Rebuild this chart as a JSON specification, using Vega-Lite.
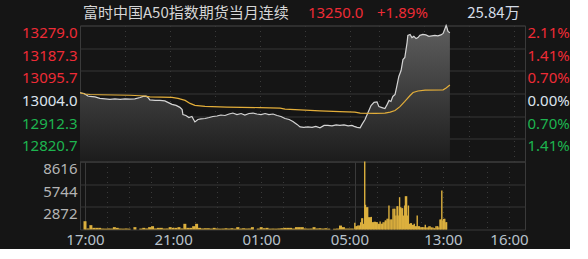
{
  "$schema": "https://vega.github.io/schema/vega-lite/v6.json",
  "background": "#151515",
  "padding": {"left": 20, "top": 4.5, "right": 0, "bottom": 0},
  "spacing": 0,
  "bounds": "flush",
  "config": {
    "font": "Noto Sans",
    "view": {"stroke": "#3a3a3a", "strokeWidth": 1},
    "axis": {"labelFontSize": 15, "labelFont": "Noto Sans", "ticks": false, "domain": false, "title": null, "labelFlush": false, "labelOverlap": false, "labelBound": false, "gridColor": "#363636", "gridWidth": 1}
  },
  "datasets": {
    "price": [
      {"t":0,"p":13007},{"t":11,"p":13004},{"t":21,"p":12994},{"t":27,"p":12992},{"t":40,"p":12990},{"t":53,"p":12984},{"t":67,"p":12982},{"t":80,"p":12980},{"t":93,"p":12982},{"t":107,"p":12980},{"t":120,"p":12982},{"t":133,"p":12981},{"t":146,"p":12982},{"t":160,"p":12988},{"t":168,"p":12992},{"t":176,"p":12993},{"t":181,"p":12988},{"t":186,"p":12978},{"t":200,"p":12976},{"t":213,"p":12976},{"t":226,"p":12974},{"t":234,"p":12968},{"t":245,"p":12960},{"t":256,"p":12956},{"t":266,"p":12948},{"t":272,"p":12939},{"t":274,"p":12919},{"t":282,"p":12915},{"t":290,"p":12907},{"t":298,"p":12911},{"t":306,"p":12889},{"t":314,"p":12899},{"t":322,"p":12901},{"t":333,"p":12903},{"t":344,"p":12907},{"t":354,"p":12911},{"t":365,"p":12913},{"t":375,"p":12917},{"t":386,"p":12915},{"t":397,"p":12921},{"t":407,"p":12925},{"t":418,"p":12919},{"t":429,"p":12923},{"t":439,"p":12917},{"t":450,"p":12923},{"t":461,"p":12925},{"t":471,"p":12921},{"t":482,"p":12919},{"t":493,"p":12923},{"t":503,"p":12919},{"t":514,"p":12921},{"t":525,"p":12915},{"t":535,"p":12911},{"t":546,"p":12903},{"t":557,"p":12899},{"t":567,"p":12891},{"t":578,"p":12879},{"t":586,"p":12869},{"t":596,"p":12867},{"t":607,"p":12869},{"t":618,"p":12867},{"t":628,"p":12871},{"t":639,"p":12865},{"t":650,"p":12875},{"t":660,"p":12875},{"t":671,"p":12873},{"t":682,"p":12877},{"t":692,"p":12875},{"t":703,"p":12877},{"t":714,"p":12873},{"t":724,"p":12875},{"t":730,"p":12871},{"t":738,"p":12867},{"t":746,"p":12865},{"t":751,"p":12879},{"t":759,"p":12899},{"t":767,"p":12927},{"t":775,"p":12955},{"t":783,"p":12968},{"t":791,"p":12970},{"t":796,"p":12951},{"t":804,"p":12947},{"t":812,"p":12943},{"t":818,"p":12960},{"t":823,"p":12976},{"t":828,"p":12972},{"t":833,"p":12992},{"t":839,"p":13000},{"t":844,"p":13036},{"t":849,"p":13073},{"t":855,"p":13097},{"t":860,"p":13141},{"t":865,"p":13150},{"t":871,"p":13210},{"t":873,"p":13239},{"t":879,"p":13243},{"t":884,"p":13230},{"t":889,"p":13235},{"t":895,"p":13226},{"t":900,"p":13230},{"t":905,"p":13239},{"t":913,"p":13243},{"t":921,"p":13241},{"t":929,"p":13235},{"t":937,"p":13237},{"t":945,"p":13239},{"t":953,"p":13237},{"t":961,"p":13241},{"t":967,"p":13247},{"t":972,"p":13267},{"t":975,"p":13279},{"t":977,"p":13271},{"t":980,"p":13255},{"t":985,"p":13250}
    ],
    "avg": [
      {"t":0,"a":13007},{"t":13,"a":13002},{"t":27,"a":13000},{"t":53,"a":12999},{"t":93,"a":12998},{"t":133,"a":12997},{"t":173,"a":12994},{"t":186,"a":12990},{"t":245,"a":12988},{"t":261,"a":12984},{"t":280,"a":12976},{"t":293,"a":12964},{"t":306,"a":12956},{"t":333,"a":12952},{"t":391,"a":12949},{"t":479,"a":12947},{"t":533,"a":12945},{"t":546,"a":12941},{"t":586,"a":12938},{"t":639,"a":12934},{"t":692,"a":12931},{"t":732,"a":12929},{"t":746,"a":12925},{"t":786,"a":12924},{"t":812,"a":12925},{"t":826,"a":12929},{"t":839,"a":12935},{"t":852,"a":12951},{"t":865,"a":12972},{"t":879,"a":12996},{"t":887,"a":13008},{"t":900,"a":13014},{"t":919,"a":13018},{"t":967,"a":13019},{"t":975,"a":13026},{"t":985,"a":13038}
    ],
    "volNight": [
      {"t":0,"v":1050},{"t":8,"v":130},{"t":16,"v":550},{"t":24,"v":210},{"t":32,"v":210},{"t":40,"v":210},{"t":48,"v":120},{"t":56,"v":110},{"t":64,"v":130},{"t":72,"v":120},{"t":80,"v":300},{"t":88,"v":210},{"t":96,"v":120},{"t":104,"v":110},{"t":112,"v":130},{"t":120,"v":110},{"t":128,"v":0},{"t":136,"v":300},{"t":144,"v":0},{"t":152,"v":120},{"t":160,"v":210},{"t":168,"v":130},{"t":176,"v":300},{"t":184,"v":420},{"t":192,"v":130},{"t":200,"v":210},{"t":208,"v":210},{"t":216,"v":120},{"t":224,"v":130},{"t":232,"v":300},{"t":240,"v":210},{"t":248,"v":210},{"t":256,"v":300},{"t":264,"v":130},{"t":272,"v":720},{"t":280,"v":210},{"t":288,"v":210},{"t":296,"v":420},{"t":304,"v":720},{"t":312,"v":210},{"t":320,"v":130},{"t":328,"v":160},{"t":336,"v":160},{"t":344,"v":120},{"t":352,"v":210},{"t":360,"v":130},{"t":368,"v":110},{"t":376,"v":120},{"t":384,"v":160},{"t":392,"v":120},{"t":400,"v":160},{"t":408,"v":110},{"t":416,"v":300},{"t":424,"v":120},{"t":432,"v":160},{"t":440,"v":120},{"t":448,"v":130},{"t":456,"v":300},{"t":464,"v":0},{"t":472,"v":120},{"t":480,"v":300},{"t":488,"v":160},{"t":496,"v":210},{"t":504,"v":110},{"t":512,"v":120},{"t":520,"v":110},{"t":528,"v":130},{"t":536,"v":160},{"t":544,"v":210},{"t":552,"v":210},{"t":560,"v":210},{"t":568,"v":120},{"t":576,"v":300},{"t":584,"v":300},{"t":592,"v":300},{"t":600,"v":130},{"t":608,"v":110},{"t":616,"v":120},{"t":624,"v":300},{"t":632,"v":130},{"t":640,"v":160},{"t":648,"v":120},{"t":656,"v":160},{"t":664,"v":110},{"t":672,"v":0},{"t":680,"v":100},{"t":688,"v":120},{"t":696,"v":500},{"t":704,"v":300},{"t":712,"v":120},{"t":720,"v":120},{"t":728,"v":120}
    ],
    "volDay": [
      {"t":735,"v":850},{"t":738,"v":420},{"t":740,"v":420},{"t":743,"v":500},{"t":746,"v":500},{"t":748,"v":500},{"t":751,"v":920},{"t":754,"v":1430},{"t":756,"v":1430},{"t":759,"v":720},{"t":762,"v":8616},{"t":764,"v":3130},{"t":767,"v":2830},{"t":770,"v":2830},{"t":772,"v":1560},{"t":775,"v":1560},{"t":778,"v":1560},{"t":780,"v":1600},{"t":783,"v":930},{"t":786,"v":930},{"t":788,"v":980},{"t":791,"v":980},{"t":794,"v":930},{"t":796,"v":930},{"t":799,"v":720},{"t":802,"v":720},{"t":804,"v":1010},{"t":807,"v":720},{"t":810,"v":720},{"t":812,"v":930},{"t":815,"v":930},{"t":818,"v":1140},{"t":820,"v":1140},{"t":823,"v":1350},{"t":826,"v":1350},{"t":828,"v":3040},{"t":831,"v":1270},{"t":834,"v":1270},{"t":836,"v":1270},{"t":839,"v":2620},{"t":842,"v":2620},{"t":844,"v":2620},{"t":847,"v":1770},{"t":850,"v":2950},{"t":852,"v":2950},{"t":855,"v":1770},{"t":857,"v":4090},{"t":860,"v":2830},{"t":863,"v":2700},{"t":865,"v":2700},{"t":868,"v":1770},{"t":871,"v":3040},{"t":873,"v":4220},{"t":876,"v":4220},{"t":879,"v":1770},{"t":881,"v":3040},{"t":884,"v":720},{"t":887,"v":800},{"t":889,"v":800},{"t":892,"v":590},{"t":895,"v":590},{"t":897,"v":720},{"t":900,"v":420},{"t":903,"v":420},{"t":905,"v":1770},{"t":908,"v":420},{"t":911,"v":420},{"t":913,"v":300},{"t":916,"v":300},{"t":919,"v":300},{"t":921,"v":300},{"t":924,"v":300},{"t":927,"v":590},{"t":929,"v":250},{"t":932,"v":250},{"t":935,"v":250},{"t":937,"v":420},{"t":940,"v":420},{"t":943,"v":250},{"t":945,"v":250},{"t":948,"v":250},{"t":951,"v":170},{"t":953,"v":170},{"t":956,"v":420},{"t":959,"v":420},{"t":961,"v":420},{"t":964,"v":250},{"t":967,"v":1270},{"t":969,"v":1270},{"t":972,"v":4940},{"t":975,"v":1140},{"t":977,"v":1350},{"t":980,"v":1350},{"t":983,"v":930},{"t":985,"v":930}
    ],
    "quote": [{"name": "富时中国A50指数期货当月连续", "last": "13250.0", "chg": "+1.89%", "vol": "25.84万"}]
  },
  "vconcat": [
    {
      "width": 445,
      "height": 136,
      "layer": [
        {
          "data": {"name": "price"},
          "mark": {"type": "area", "fill": {"gradient": "linear", "x1": 0, "y1": 0, "x2": 0, "y2": 1, "stops": [{"offset": 0, "color": "#5e5e5e"}, {"offset": 1, "color": "#1c1c1c"}]}, "stroke": null},
          "encoding": {
            "x": {"field": "t", "type": "quantitative", "scale": {"domain": [0, 1185], "nice": false, "zero": false},
              "axis": {"values": [0,60,120,180,240,300,360,420,480,540,600,660,720,735,795,855,915,975,1035,1095,1155], "labels": false, "grid": true, "gridColor": "#3a3a3a",
                "gridDash": {"condition": {"test": "datum.value == 735 || datum.value == 0", "value": []}, "value": [1, 4]}}},
            "y": {"field": "p", "type": "quantitative", "scale": {"domain": [12729, 13279], "nice": false, "zero": false},
              "axis": {"orient": "left", "values": [12820.7, 12912.3, 13004, 13095.7, 13187.3, 13279], "grid": true, "gridColor": "#363636", "labelPadding": 3, "labelBaseline": "top",
                "labelExpr": "format(datum.value, '.1f')",
                "labelColor": {"condition": [{"test": "datum.value > 13004.5", "value": "#ee2b36"}, {"test": "datum.value < 13003.5", "value": "#1db44f"}], "value": "#dce4ee"}}},
            "y2": {"datum": 12729}
          }
        },
        {
          "data": {"name": "price"},
          "mark": {"type": "line", "color": "#d4d4d4", "strokeWidth": 1.2},
          "encoding": {
            "x": {"field": "t", "type": "quantitative"},
            "y": {"field": "p", "type": "quantitative",
              "axis": {"orient": "right", "values": [12820.7, 12912.3, 13004, 13095.7, 13187.3, 13279], "grid": false, "labelPadding": 2, "labelBaseline": "top",
                "labelExpr": "['0.00%','0.70%','1.41%','2.11%'][abs(round((datum.value - 13004) / 91.7))]",
                "labelColor": {"condition": [{"test": "datum.value > 13004.5", "value": "#ee2b36"}, {"test": "datum.value < 13003.5", "value": "#1db44f"}], "value": "#dce4ee"}}}
          }
        },
        {
          "data": {"name": "avg"},
          "mark": {"type": "line", "color": "#e3ae3a", "strokeWidth": 1.2},
          "encoding": {"x": {"field": "t", "type": "quantitative"}, "y": {"field": "a", "type": "quantitative", "axis": null}}
        },
        {
          "data": {"name": "quote"},
          "mark": {"type": "text", "align": "left", "baseline": "middle", "dy": -13, "fontSize": 15, "fill": "#d6d6d6", "font": "Noto Sans CJK SC"},
          "encoding": {"x": {"datum": 8, "type": "quantitative"}, "y": {"datum": 13279, "type": "quantitative", "axis": null}, "text": {"field": "name", "type": "nominal"}}
        },
        {
          "data": {"name": "quote"},
          "mark": {"type": "text", "align": "left", "baseline": "middle", "dy": -13, "fontSize": 15, "fill": "#ee2b36", "font": "Noto Sans"},
          "encoding": {"x": {"datum": 607, "type": "quantitative"}, "y": {"datum": 13279, "type": "quantitative", "axis": null}, "text": {"field": "last", "type": "nominal"}}
        },
        {
          "data": {"name": "quote"},
          "mark": {"type": "text", "align": "left", "baseline": "middle", "dy": -13, "fontSize": 15, "fill": "#ee2b36", "font": "Noto Sans"},
          "encoding": {"x": {"datum": 791, "type": "quantitative"}, "y": {"datum": 13279, "type": "quantitative", "axis": null}, "text": {"field": "chg", "type": "nominal"}}
        },
        {
          "data": {"name": "quote"},
          "mark": {"type": "text", "align": "left", "baseline": "middle", "dy": -13, "fontSize": 15, "fill": "#d4dce6", "font": "Noto Sans CJK SC"},
          "encoding": {"x": {"datum": 1031, "type": "quantitative"}, "y": {"datum": 13279, "type": "quantitative", "axis": null}, "text": {"field": "vol", "type": "nominal"}}
        }
      ],
      "resolve": {"axis": {"y": "independent"}}
    },
    {
      "width": 445,
      "height": 68,
      "encoding": {
        "x": {"field": "t", "type": "quantitative", "scale": {"domain": [0, 1185], "nice": false, "zero": false},
          "axis": {"values": [0,60,120,180,240,300,360,420,480,540,600,660,720,735,795,855,915,975,1035,1095,1155], "grid": true, "gridColor": "#3a3a3a",
            "gridDash": {"condition": {"test": "datum.value == 735 || datum.value == 0", "value": []}, "value": [1, 4]},
            "labelColor": "#b8c2cc", "labelPadding": 3,
            "labelExpr": "indexof([0,240,480,720,975,1155], datum.value) >= 0 ? timeFormat(datetime(2000, 0, 1, 0, datum.value < 735 ? 1020 + datum.value : datum.value - 195), '%H:%M') : ''"}},
        "y": {"field": "v", "type": "quantitative", "scale": {"domain": [0, 8616], "nice": false, "zero": true},
          "axis": {"values": [2872, 5744, 8616], "format": "d", "grid": true, "gridColor": "#363636", "labelColor": "#b4b4b4", "labelPadding": 3, "labelBaseline": "top"}}
      },
      "layer": [
        {"data": {"name": "volNight"}, "mark": {"type": "bar", "size": 3, "color": "#dcb03e"}},
        {"data": {"name": "volDay"}, "mark": {"type": "bar", "size": 1.4, "color": "#dcb03e"}}
      ]
    }
  ]
}
